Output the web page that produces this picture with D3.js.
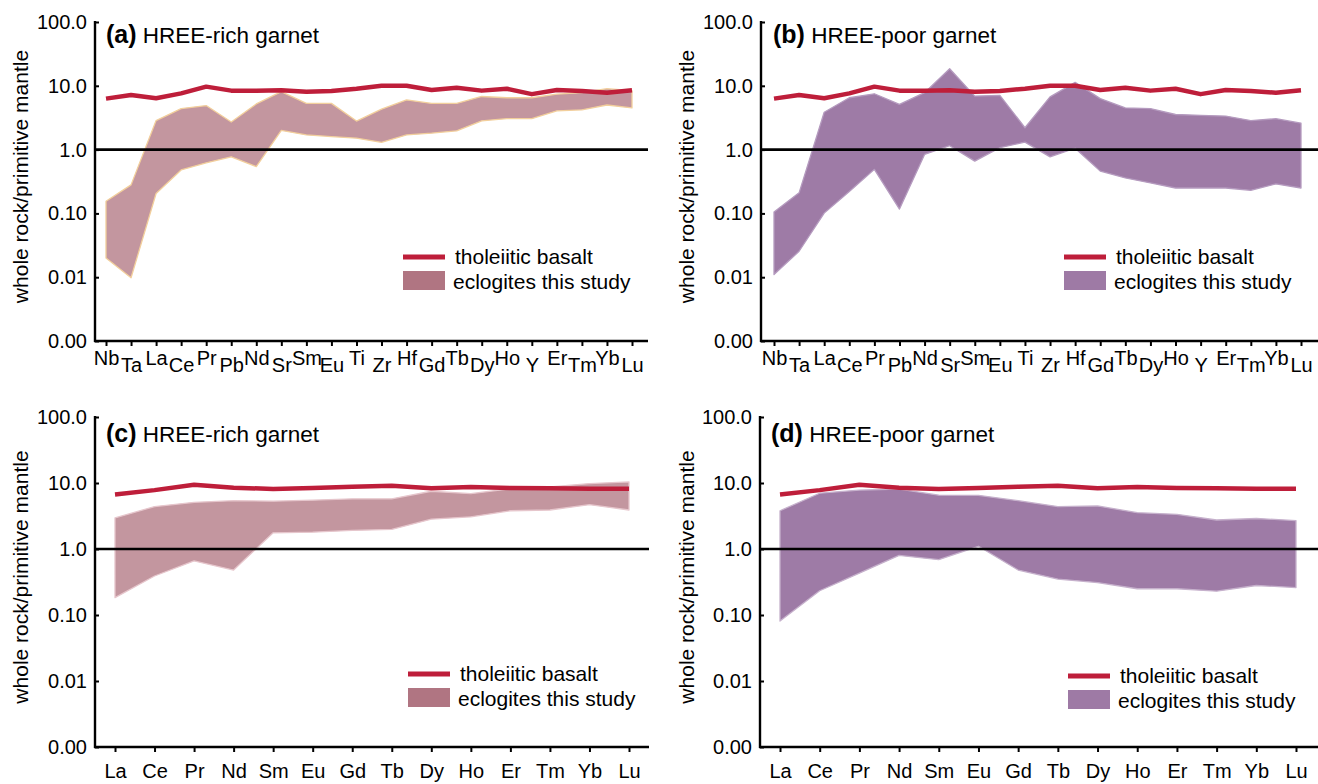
<!DOCTYPE html>
<html>
<head>
<meta charset="utf-8">
<script src="https://cdn.jsdelivr.net/npm/d3@7"></script>
<style>
  html, body { margin: 0; padding: 0; background: #fff; }
  svg { display: block; font-family: "Liberation Sans", Arial, Helvetica, sans-serif; }
</style>
</head>
<body>
<svg id="chart" width="1318" height="784"></svg>
<script>
// Trace elements for the multi-element diagrams (a, b)
const traceElements = ["Nb","Ta","La","Ce","Pr","Pb","Nd","Sr","Sm","Eu","Ti","Zr","Hf","Gd","Tb","Dy","Ho","Y","Er","Tm","Yb","Lu"];
// Rare earth elements for the REE diagrams (c, d)
const reeElements = ["La","Ce","Pr","Nd","Sm","Eu","Gd","Tb","Dy","Ho","Er","Tm","Yb","Lu"];

// Tholeiitic basalt, normalised to primitive mantle
const basaltTrace = [6.3,7.2,6.4,7.6,9.7,8.4,8.4,8.5,8.1,8.3,9.0,10.0,10.0,8.6,9.3,8.4,9.0,7.4,8.6,8.3,7.8,8.5];
const basaltRee   = [6.7,7.8,9.4,8.5,8.1,8.4,8.8,9.1,8.3,8.7,8.4,8.3,8.2,8.2];

// Eclogite envelopes (upper / lower bounds)
const richTraceUpper = [0.155,0.28,2.85,4.4,4.9,2.7,5.2,8.1,5.3,5.3,2.8,4.3,6.0,5.3,5.3,6.8,6.5,6.5,7.4,7.8,9.0,8.4];
const richTraceLower = [0.020,0.0098,0.205,0.48,0.62,0.77,0.54,2.0,1.70,1.60,1.51,1.30,1.70,1.81,1.97,2.83,3.05,3.05,4.05,4.2,5.0,4.5];
const poorTraceUpper = [0.105,0.21,3.85,6.5,7.5,5.1,7.8,18.5,6.9,7.1,2.2,6.7,11.3,6.3,4.5,4.4,3.55,3.45,3.35,2.85,3.05,2.6];
const poorTraceLower = [0.011,0.0255,0.101,0.22,0.49,0.117,0.84,1.15,0.66,1.07,1.31,0.77,1.05,0.46,0.36,0.30,0.25,0.25,0.25,0.23,0.29,0.25];
const richReeUpper = [2.95,4.4,5.1,5.4,5.3,5.5,5.75,5.75,7.5,6.9,8.2,8.7,9.8,10.4];
const richReeLower = [0.183,0.39,0.66,0.48,1.76,1.8,1.91,1.98,2.83,3.07,3.8,3.9,4.7,3.9];
const poorReeUpper = [3.8,7.0,7.8,8.1,6.55,6.5,5.4,4.4,4.5,3.55,3.35,2.75,2.9,2.7];
const poorReeLower = [0.081,0.233,0.43,0.80,0.69,1.1,0.48,0.35,0.31,0.25,0.25,0.23,0.28,0.26];

// Y axis ticks and their printed labels
const yTickValues = [100, 10, 1, 0.1, 0.01, 0.001];
const yTickLabels = ["100.0", "10.0", "1.0", "0.10", "0.01", "0.00"];

const yTitle = "whole rock/primitive mantle";
const legendLine = "tholeiitic basalt";
const legendBand = "eclogites this study";

const RED = "#be1e3a";
const richStyle = { fill: "#c3969f", stroke: "#f2cf9c", legend: "#b07582" };
const poorStyle = { fill: "#9e7ba6", stroke: "#b59bbf", legend: "#9e7aa5" };

const panels = [
  { tag: "(a)", name: "HREE-rich garnet", elements: traceElements, basalt: basaltTrace,
    upper: richTraceUpper, lower: richTraceLower, style: richStyle,
    axisX: 95, right: 648, firstTick: 106, lastTick: 632, top: 22, bottom: 341,
    titleX: 106, titleY: 43, legX: 403, legY: 257, stagger: true, titleAxisX: 20 },
  { tag: "(b)", name: "HREE-poor garnet", elements: traceElements, basalt: basaltTrace,
    upper: poorTraceUpper, lower: poorTraceLower, style: poorStyle,
    axisX: 761, right: 1318, firstTick: 774, lastTick: 1301, top: 22, bottom: 341,
    titleX: 773, titleY: 43, legX: 1064, legY: 257, stagger: true, titleAxisX: 686 },
  { tag: "(c)", name: "HREE-rich garnet", elements: reeElements, basalt: basaltRee,
    upper: richReeUpper, lower: richReeLower, style: Object.assign({}, richStyle, { stroke: "#e6c6cc" }),
    axisX: 95, right: 649, firstTick: 115, lastTick: 629, top: 417, bottom: 747,
    titleX: 106, titleY: 442, legX: 408, legY: 674, stagger: false, titleAxisX: 20 },
  { tag: "(d)", name: "HREE-poor garnet", elements: reeElements, basalt: basaltRee,
    upper: poorReeUpper, lower: poorReeLower, style: Object.assign({}, poorStyle, { stroke: "#c6b1cc" }),
    axisX: 760, right: 1318, firstTick: 780, lastTick: 1296, top: 417, bottom: 747,
    titleX: 771, titleY: 442, legX: 1068, legY: 676, stagger: false, titleAxisX: 686 }
];

const svg = d3.select("#chart");

panels.forEach(p => {
  const g = svg.append("g");
  const x = d3.scalePoint().domain(p.elements).range([p.firstTick, p.lastTick]);
  const y = d3.scaleLog().domain([0.001, 100]).range([p.bottom, p.top]);
  const rows = p.elements.map((el, i) => ({ el, up: p.upper[i], lo: p.lower[i], b: p.basalt[i] }));

  // eclogite envelope
  g.append("path")
    .datum(rows)
    .attr("d", d3.area().x(d => x(d.el)).y0(d => y(d.lo)).y1(d => y(d.up)))
    .attr("fill", p.style.fill)
    .attr("stroke", p.style.stroke)
    .attr("stroke-width", 1.3)
    .attr("stroke-linejoin", "round");

  // primitive mantle reference line
  g.append("line")
    .attr("x1", p.axisX).attr("x2", p.right)
    .attr("y1", y(1)).attr("y2", y(1))
    .attr("stroke", "#000").attr("stroke-width", 2.6);

  // tholeiitic basalt pattern
  g.append("path")
    .datum(rows)
    .attr("d", d3.line().x(d => x(d.el)).y(d => y(d.b)))
    .attr("fill", "none")
    .attr("stroke", RED)
    .attr("stroke-width", 4.5)
    .attr("stroke-linejoin", "round");

  // y axis
  const yAxis = d3.axisLeft(y)
    .tickValues(yTickValues)
    .tickFormat((d, i) => yTickLabels[i])
    .tickSizeInner(-4).tickSizeOuter(0).tickPadding(8);
  const ya = g.append("g").attr("transform", `translate(${p.axisX},0)`).call(yAxis);
  ya.select(".domain").remove();
  ya.selectAll(".tick line").attr("stroke", "#000").attr("stroke-width", 2);
  ya.selectAll(".tick text").attr("font-size", 20).attr("fill", "#000")
    .attr("font-family", "'Liberation Sans', Arial, sans-serif");
  g.append("line")
    .attr("x1", p.axisX).attr("x2", p.axisX)
    .attr("y1", p.top - 1).attr("y2", p.bottom + 1)
    .attr("stroke", "#000").attr("stroke-width", 2.4);

  // x axis
  const xAxis = d3.axisBottom(x).tickSizeInner(5).tickSizeOuter(0).tickPadding(4);
  const xa = g.append("g").attr("transform", `translate(0,${p.bottom})`).call(xAxis);
  xa.select(".domain").remove();
  xa.selectAll(".tick line").attr("stroke", "#000").attr("stroke-width", 2);
  xa.selectAll(".tick text")
    .attr("font-size", 20).attr("fill", "#000")
    .attr("font-family", "'Liberation Sans', Arial, sans-serif")
    .attr("dy", null)
    .attr("y", (d, i) => p.stagger ? (i % 2 === 0 ? 24 : 31) : 31);
  g.append("line")
    .attr("x1", p.axisX - 1).attr("x2", p.right)
    .attr("y1", p.bottom).attr("y2", p.bottom)
    .attr("stroke", "#000").attr("stroke-width", 2.4);

  // axis title
  g.append("text")
    .attr("transform", `translate(${p.titleAxisX},${(p.top + p.bottom) / 2 - 5}) rotate(-90)`)
    .attr("text-anchor", "middle")
    .attr("dominant-baseline", "central")
    .attr("font-size", 21)
    .text(yTitle);

  // panel title
  const t = g.append("text").attr("x", p.titleX).attr("y", p.titleY).attr("font-size", 22.5);
  t.append("tspan").attr("font-weight", "bold").attr("font-size", 25).text(p.tag);
  t.append("tspan").text(" " + p.name);

  // legend
  const lg = g.append("g").attr("transform", `translate(${p.legX},${p.legY})`);
  lg.append("line").attr("x1", 0).attr("x2", 42).attr("y1", 0).attr("y2", 0)
    .attr("stroke", RED).attr("stroke-width", 5);
  lg.append("text").attr("x", 52).attr("y", 7).attr("font-size", 21).text(legendLine);
  lg.append("rect").attr("x", 0).attr("y", 14).attr("width", 42).attr("height", 19)
    .attr("fill", p.style.legend);
  lg.append("text").attr("x", 50).attr("y", 32).attr("font-size", 21).text(legendBand);
});
</script>
</body>
</html>
